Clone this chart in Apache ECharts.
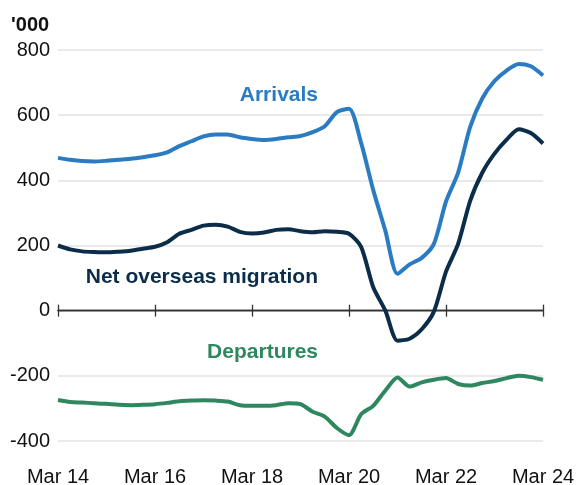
<!DOCTYPE html>
<html>
<head>
<meta charset="utf-8">
<script src="https://cdn.jsdelivr.net/npm/echarts@6/dist/echarts.min.js"></script>
<style>
html,body{margin:0;padding:0;background:#fff;}
#c{width:578px;height:485px;}
</style>
</head>
<body>
<div id="c"></div>
<script>
// Quarterly, Mar 2014 – Mar 2024 ('000)
const quarters = (function(){
  const q = [];
  const m = ['Mar','Jun','Sep','Dec'];
  for (let y = 14; y <= 24; y++) {
    for (let k = 0; k < 4; k++) {
      if (y === 24 && k > 0) break;
      q.push(m[k] + ' ' + y);
    }
  }
  return q;
})();

const arrivals = [469,463,459,458,460,463,466,471,477,486,505,520,535,541,541,532,527,524,527,532,536,548,566,609,620,515,370,245,113,142,162,205,335,424,565,652,705,737,757,750,722];
const departures = [-274,-280,-282,-284,-286,-289,-290,-289,-287,-283,-278,-276,-275,-276,-279,-290,-292,-292,-290,-284,-287,-310,-325,-360,-382,-318,-292,-245,-205,-233,-220,-212,-207,-225,-230,-222,-216,-207,-200,-204,-212];
const netMigration = [200,188,182,180,179,181,184,190,196,210,236,248,261,264,258,242,237,240,248,250,244,241,244,242,236,196,72,0,-92,-86,-57,-3,120,205,338,424,482,525,557,545,513];

const yTicks = {min:-400, max:800, interval:200};
const seriesNames = {arr:'Arrivals', net:'Net overseas migration', dep:'Departures'};
const unitLabel = "'000";

const colArr = '#2a7bc1', colNet = '#0b2d4a', colDep = '#2f8760';
const font = 'Arial, "Liberation Sans", sans-serif';

const chart = echarts.init(document.getElementById('c'));
const tickShow = (i) => i % 8 === 0;
const tickStyle = {color:'#333', width:1.3};

chart.setOption({
  animation:false,
  grid:{left:58, right:35, top:50, bottom:44, containLabel:false, outerBoundsMode:'none'},
  xAxis:[
    {type:'category', data:quarters, boundaryGap:false,
     axisLine:{show:false, onZero:false}, axisTick:{show:false},
     axisLabel:{interval:(i)=>tickShow(i), margin:26, color:'#111', fontSize:20, fontFamily:font},
     splitLine:{show:false}},
    {type:'category', data:quarters, boundaryGap:false, position:'top',
     axisLine:{show:true, onZero:true, onZeroAxisIndex:0, lineStyle:tickStyle},
     axisTick:{show:true, inside:false, length:6, interval:(i)=>tickShow(i), lineStyle:tickStyle},
     axisLabel:{show:false}},
    {type:'category', data:quarters, boundaryGap:false, position:'bottom',
     axisLine:{show:true, onZero:true, onZeroAxisIndex:1, lineStyle:tickStyle},
     axisTick:{show:true, inside:false, length:6, interval:(i)=>tickShow(i), lineStyle:tickStyle},
     axisLabel:{show:false}}
  ],
  yAxis:[
    {type:'value', min:yTicks.min, max:yTicks.max, interval:yTicks.interval,
     axisLine:{show:false}, axisTick:{show:false},
     axisLabel:{margin:8, color:'#111', fontSize:20, fontFamily:font},
     splitLine:{lineStyle:{color:'#e3e3e3', width:1.5}}},
    {type:'value', min:yTicks.min, max:yTicks.max, interval:yTicks.interval, position:'left',
     axisLine:{show:false}, axisTick:{show:false}, axisLabel:{show:false}, splitLine:{show:false}}
  ],
  series:[
    {name:seriesNames.arr, type:'line', data:arrivals, xAxisIndex:0, showSymbol:false, smooth:0.25,
     lineStyle:{color:colArr, width:4}, itemStyle:{color:colArr}},
    {name:seriesNames.dep, type:'line', data:departures, xAxisIndex:0, showSymbol:false, smooth:0.25,
     lineStyle:{color:colDep, width:4}, itemStyle:{color:colDep}},
    {name:seriesNames.net, type:'line', data:netMigration, xAxisIndex:0, showSymbol:false, smooth:0.25,
     lineStyle:{color:colNet, width:4}, itemStyle:{color:colNet}}
  ],
  graphic:[
    {type:'text', left:11, top:15, style:{text:unitLabel, fill:'#111', font:'bold 20px '+font}},
    {type:'text', right:260, top:85, style:{text:seriesNames.arr, fill:colArr, font:'bold 21px '+font}},
    {type:'text', right:260, top:267, style:{text:seriesNames.net, fill:colNet, font:'bold 21px '+font}},
    {type:'text', right:260, top:342, style:{text:seriesNames.dep, fill:colDep, font:'bold 21px '+font}}
  ]
});
</script>
</body>
</html>
